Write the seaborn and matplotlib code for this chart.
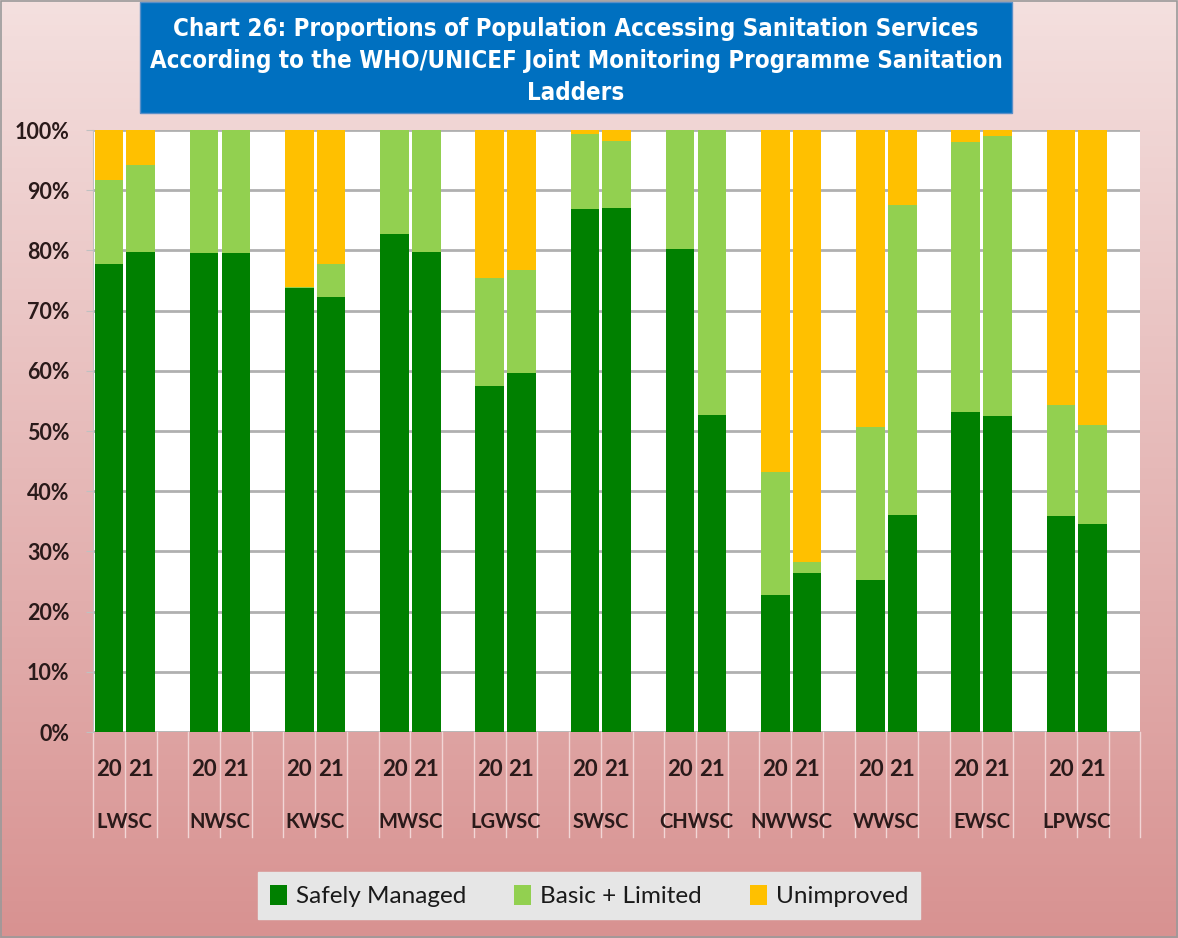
import numpy as np
import pandas as pd
import matplotlib
matplotlib.use("Agg")
import matplotlib.pyplot as plt
from matplotlib.patches import Rectangle, Patch
import seaborn as sns

# data (percent of population)
utilities = ["LWSC", "NWSC", "KWSC", "MWSC", "LGWSC", "SWSC",
             "CHWSC", "NWWSC", "WWSC", "EWSC", "LPWSC"]
years = ["20", "21"]
safely_managed = [77.8, 79.8, 79.5, 79.5, 73.7, 72.3, 82.7, 79.7, 57.4, 59.6, 86.9,
                  87.1, 80.3, 52.7, 22.8, 26.4, 25.2, 36.1, 53.2, 52.5, 35.9, 34.5]
basic_limited = [13.9, 14.4, 20.5, 20.5, 0.3, 5.5, 17.3, 20.3, 18.0, 17.2, 12.4,
                 11.0, 19.7, 47.3, 20.4, 1.8, 25.5, 51.4, 44.8, 46.5, 18.4, 16.5]
unimproved = [8.3, 5.8, 0.0, 0.0, 26.0, 22.2, 0.0, 0.0, 24.6, 23.2, 0.7,
              1.9, 0.0, 0.0, 56.8, 71.8, 49.3, 12.5, 2.0, 1.0, 45.7, 49.0]
series_names = ["Safely Managed", "Basic + Limited", "Unimproved"]
series_colors = ["#008000", "#92d050", "#ffc000"]

rows = []
for i, u in enumerate(utilities):
    for j, y in enumerate(years):
        k = 2 * i + j
        rows.append({"slot": f"{u}-{y}", "safe": safely_managed[k],
                     "basic": basic_limited[k], "unimp": unimproved[k]})
df = pd.DataFrame(rows)
df["c1"] = df["safe"]
df["c2"] = df["safe"] + df["basic"]
df["c3"] = df["c2"] + df["unimp"]

# each group gets 2 bars plus an empty slot
order = []
for u in utilities:
    order += [f"{u}-20", f"{u}-21", f"{u}-gap"]

txt_color = "#2a1a1a"
fig = plt.figure(figsize=(11.78, 9.38), dpi=100)

# gradient background, light at top
bg = fig.add_axes([0, 0, 1, 1], zorder=-10)
top = np.array([0xf4, 0xe0, 0xdf]) / 255
bot = np.array([0xd8, 0x92, 0x91]) / 255
t = np.linspace(0, 1, 256)[:, None]
grad = top[None, :] * (1 - t) + bot[None, :] * t
bg.imshow(grad[:, None, :], aspect="auto", extent=[0, 1, 0, 1], origin="upper")
bg.axis("off")
fig.patches.append(Rectangle((0.001, 0.001), 0.998, 0.998, transform=fig.transFigure,
                             fill=False, edgecolor="#9a9a9a", lw=1.2))

ax = fig.add_axes([0.079, 0.2196, 0.889, 0.6418])
ax.set_facecolor("white")

for col, colr in zip(["c3", "c2", "c1"], series_colors[::-1]):
    sns.barplot(data=df, x="slot", y=col, order=order, color=colr, width=0.9,
                saturation=1, edgecolor="none", ax=ax, errorbar=None, zorder=3)

ax.set_ylim(0, 100)
ax.set_xlim(-0.5, len(order) - 0.5)
ax.set_yticks(range(0, 101, 10))
ax.set_yticklabels([f"{v}%" for v in range(0, 101, 10)])
ax.yaxis.grid(True, color="#b0b0b0", lw=2, zorder=0)
ax.set_axisbelow(True)
for s in ["top", "right", "bottom"]:
    ax.spines[s].set_visible(False)
ax.spines["left"].set_color("#c0c0c0")
ax.tick_params(axis="y", length=5, color="#c0c0c0", labelsize=15.5,
               labelcolor=txt_color, pad=12)
for lab in ax.get_yticklabels():
    lab.set_fontfamily("Lato")
    lab.set_fontweight("bold")

ax.set_xlabel("")
ax.set_ylabel("")
ax.set_xticks(range(len(order)))
ax.set_xticklabels([])
ax.tick_params(axis="x", length=0)

# slot separator lines under the axis
for b in np.arange(-0.5, len(order), 1.0):
    ax.plot([b, b], [0, -17.5], color="#f2d6d6", lw=1, clip_on=False, zorder=1)
for i, u in enumerate(utilities):
    for j, y in enumerate(years):
        ax.text(3 * i + j, -6.3, y, ha="center", va="center", fontsize=16,
                fontfamily="Lato", fontweight="bold", color=txt_color, clip_on=False)
    ax.text(3 * i + 0.5, -15, u, ha="center", va="center", fontsize=14.5,
            fontfamily="Lato", fontweight="bold", color=txt_color, clip_on=False)

# title box
fig.patches.append(Rectangle((0.119, 0.8795), 0.74, 0.1185, transform=fig.transFigure,
                             facecolor="#0070c0", edgecolor="#5a8fc8", lw=1))
fig.text(0.489, 0.935,
         "Chart 26: Proportions of Population Accessing Sanitation Services\n"
         "According to the WHO/UNICEF Joint Monitoring Programme Sanitation\nLadders",
         ha="center", va="center", color="white", fontsize=17.3, fontweight="bold",
         family="DejaVu Sans", fontstretch="condensed", linespacing=1.42)

handles = [Patch(facecolor=c, edgecolor="none", label=n)
           for n, c in zip(series_names, series_colors)]
leg = fig.legend(handles=handles, loc="center", bbox_to_anchor=(0.5, 0.045), ncol=3,
                 frameon=True, fancybox=False, facecolor="#e6e6e6", edgecolor="#e6e6e6",
                 handlelength=0.7, handleheight=0.9, handletextpad=0.35,
                 columnspacing=2.0, borderpad=0.5,
                 prop={"family": "Lato", "size": 17.5})
leg.get_frame().set_alpha(1)
for txt in leg.get_texts():
    txt.set_color("#1a1a1a")

fig.savefig("out.png", dpi=100)
